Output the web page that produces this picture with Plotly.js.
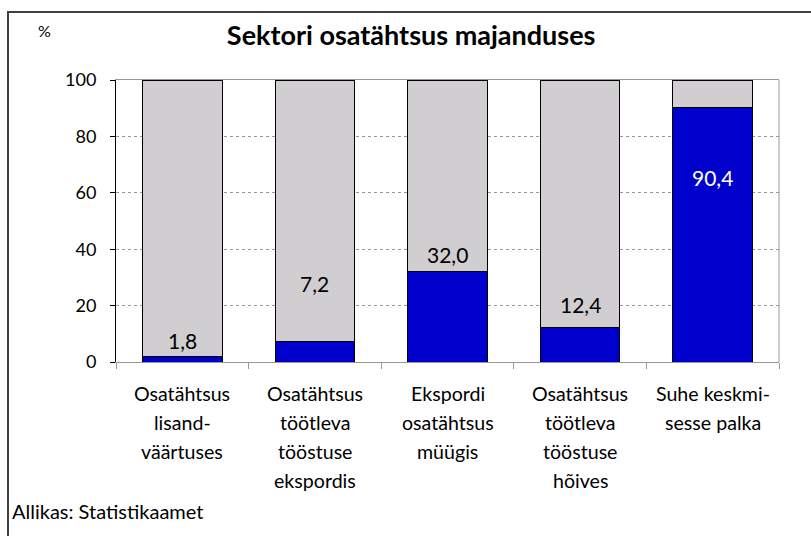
<!DOCTYPE html>
<html>
<head>
<meta charset="utf-8">
<script src="https://cdn.plot.ly/plotly-3.0.1.min.js"></script>
<style>
  html, body { margin:0; padding:0; background:#fff; overflow:hidden; }
  #frame { position:absolute; left:7px; top:11px; width:820px; height:540px; border:2px solid #404040; box-sizing:border-box; }
  #chart { position:absolute; left:0; top:0; width:811px; height:536px; }
</style>
</head>
<body>
<div id="frame"></div>
<div id="chart"></div>
<script>
// ---- data ----
const categories = ["c1", "c2", "c3", "c4", "c5"];
const categoryLines = [
  ["Osatähtsus", "lisand-", "väärtuses"],
  ["Osatähtsus", "töötleva", "tööstuse", "ekspordis"],
  ["Ekspordi", "osatähtsus", "müügis"],
  ["Osatähtsus", "töötleva", "tööstuse", "hõives"],
  ["Suhe keskmi-", "sesse palka"]
];
const sectorShare = [1.8, 7.2, 32.0, 12.4, 90.4];
const labelY = [7.8, 28, 38, 20.5, 65.6];   // text placement on value axis
const yTicks = [0, 20, 40, 60, 80, 100];

const rest = sectorShare.map(v => 100 - v);
const fontFam = "Lato, 'Open Sans', sans-serif";

const traces = [
  { type: "bar", x: categories, y: sectorShare,
    marker: { color: "#0000CC", line: { color: "#000", width: 1 } },
    hoverinfo: "none" },
  { type: "bar", x: categories, y: rest,
    marker: { color: "#D0CED0", line: { color: "#000", width: 1 } },
    hoverinfo: "none" }
];

const annotations = [];
sectorShare.forEach((v, i) => {
  annotations.push({
    x: categories[i], y: labelY[i], xref: "x", yref: "y",
    text: v.toFixed(1).replace(".", ","), showarrow: false,
    font: { family: fontFam, size: 21, color: v > 50 ? "#fff" : "#000" }
  });
});
categoryLines.forEach((lines, i) => {
  lines.forEach((t, j) => {
    annotations.push({
      x: categories[i], y: 0, xref: "x", yref: "paper",
      yanchor: "middle", yshift: -(31 + j * 29),
      text: t, showarrow: false,
      font: { family: fontFam, size: 19.6, color: "#000" }
    });
  });
});
annotations.push({
  x: -0.12, y: 1.215, xref: "paper", yref: "paper",
  text: "%", showarrow: false, font: { family: fontFam, size: 16, color: "#000" }
});
annotations.push({
  x: -0.16, y: -0.578, xref: "paper", yref: "paper", xanchor: "left",
  text: "Allikas: Statistikaamet", showarrow: false,
  font: { family: fontFam, size: 20, color: "#000" }
});

const layout = {
  width: 811, height: 536,
  margin: { l: 116, r: 32, t: 80, b: 174 },
  paper_bgcolor: "rgba(0,0,0,0)", plot_bgcolor: "#fff",
  showlegend: false,
  barmode: "stack", bargap: 0.4,
  title: { text: "<b>Sektori osatähtsus majanduses</b>",
           font: { family: fontFam, size: 27, color: "#000" },
           x: 0.507, xref: "container", xanchor: "center",
           y: 0.933, yref: "container", yanchor: "middle" },
  xaxis: { type: "category", showticklabels: false, tickson: "boundaries",
           ticks: "outside", ticklen: 6, tickcolor: "#999",
           showline: true, linecolor: "#999", linewidth: 1, mirror: true,
           showgrid: false, zeroline: false, fixedrange: true },
  yaxis: { range: [0, 100], tickvals: yTicks, ticks: "outside", ticklen: 5,
           tickcolor: "#000", showline: true, linecolor: "#000", linewidth: 1,
           showgrid: true, gridcolor: "#999", griddash: "dot", gridwidth: 1,
           zeroline: false, ticklabelstandoff: 10,
           tickfont: { family: fontFam, size: 18, color: "#000" }, fixedrange: true },
  shapes: [
    { type: "line", xref: "paper", yref: "paper", x0: 1, x1: 1, y0: 0, y1: 1,
      line: { color: "#999", width: 1 } }
  ],
  annotations: annotations
};

Plotly.newPlot("chart", traces, layout, { staticPlot: true, displayModeBar: false });
</script>
</body>
</html>
